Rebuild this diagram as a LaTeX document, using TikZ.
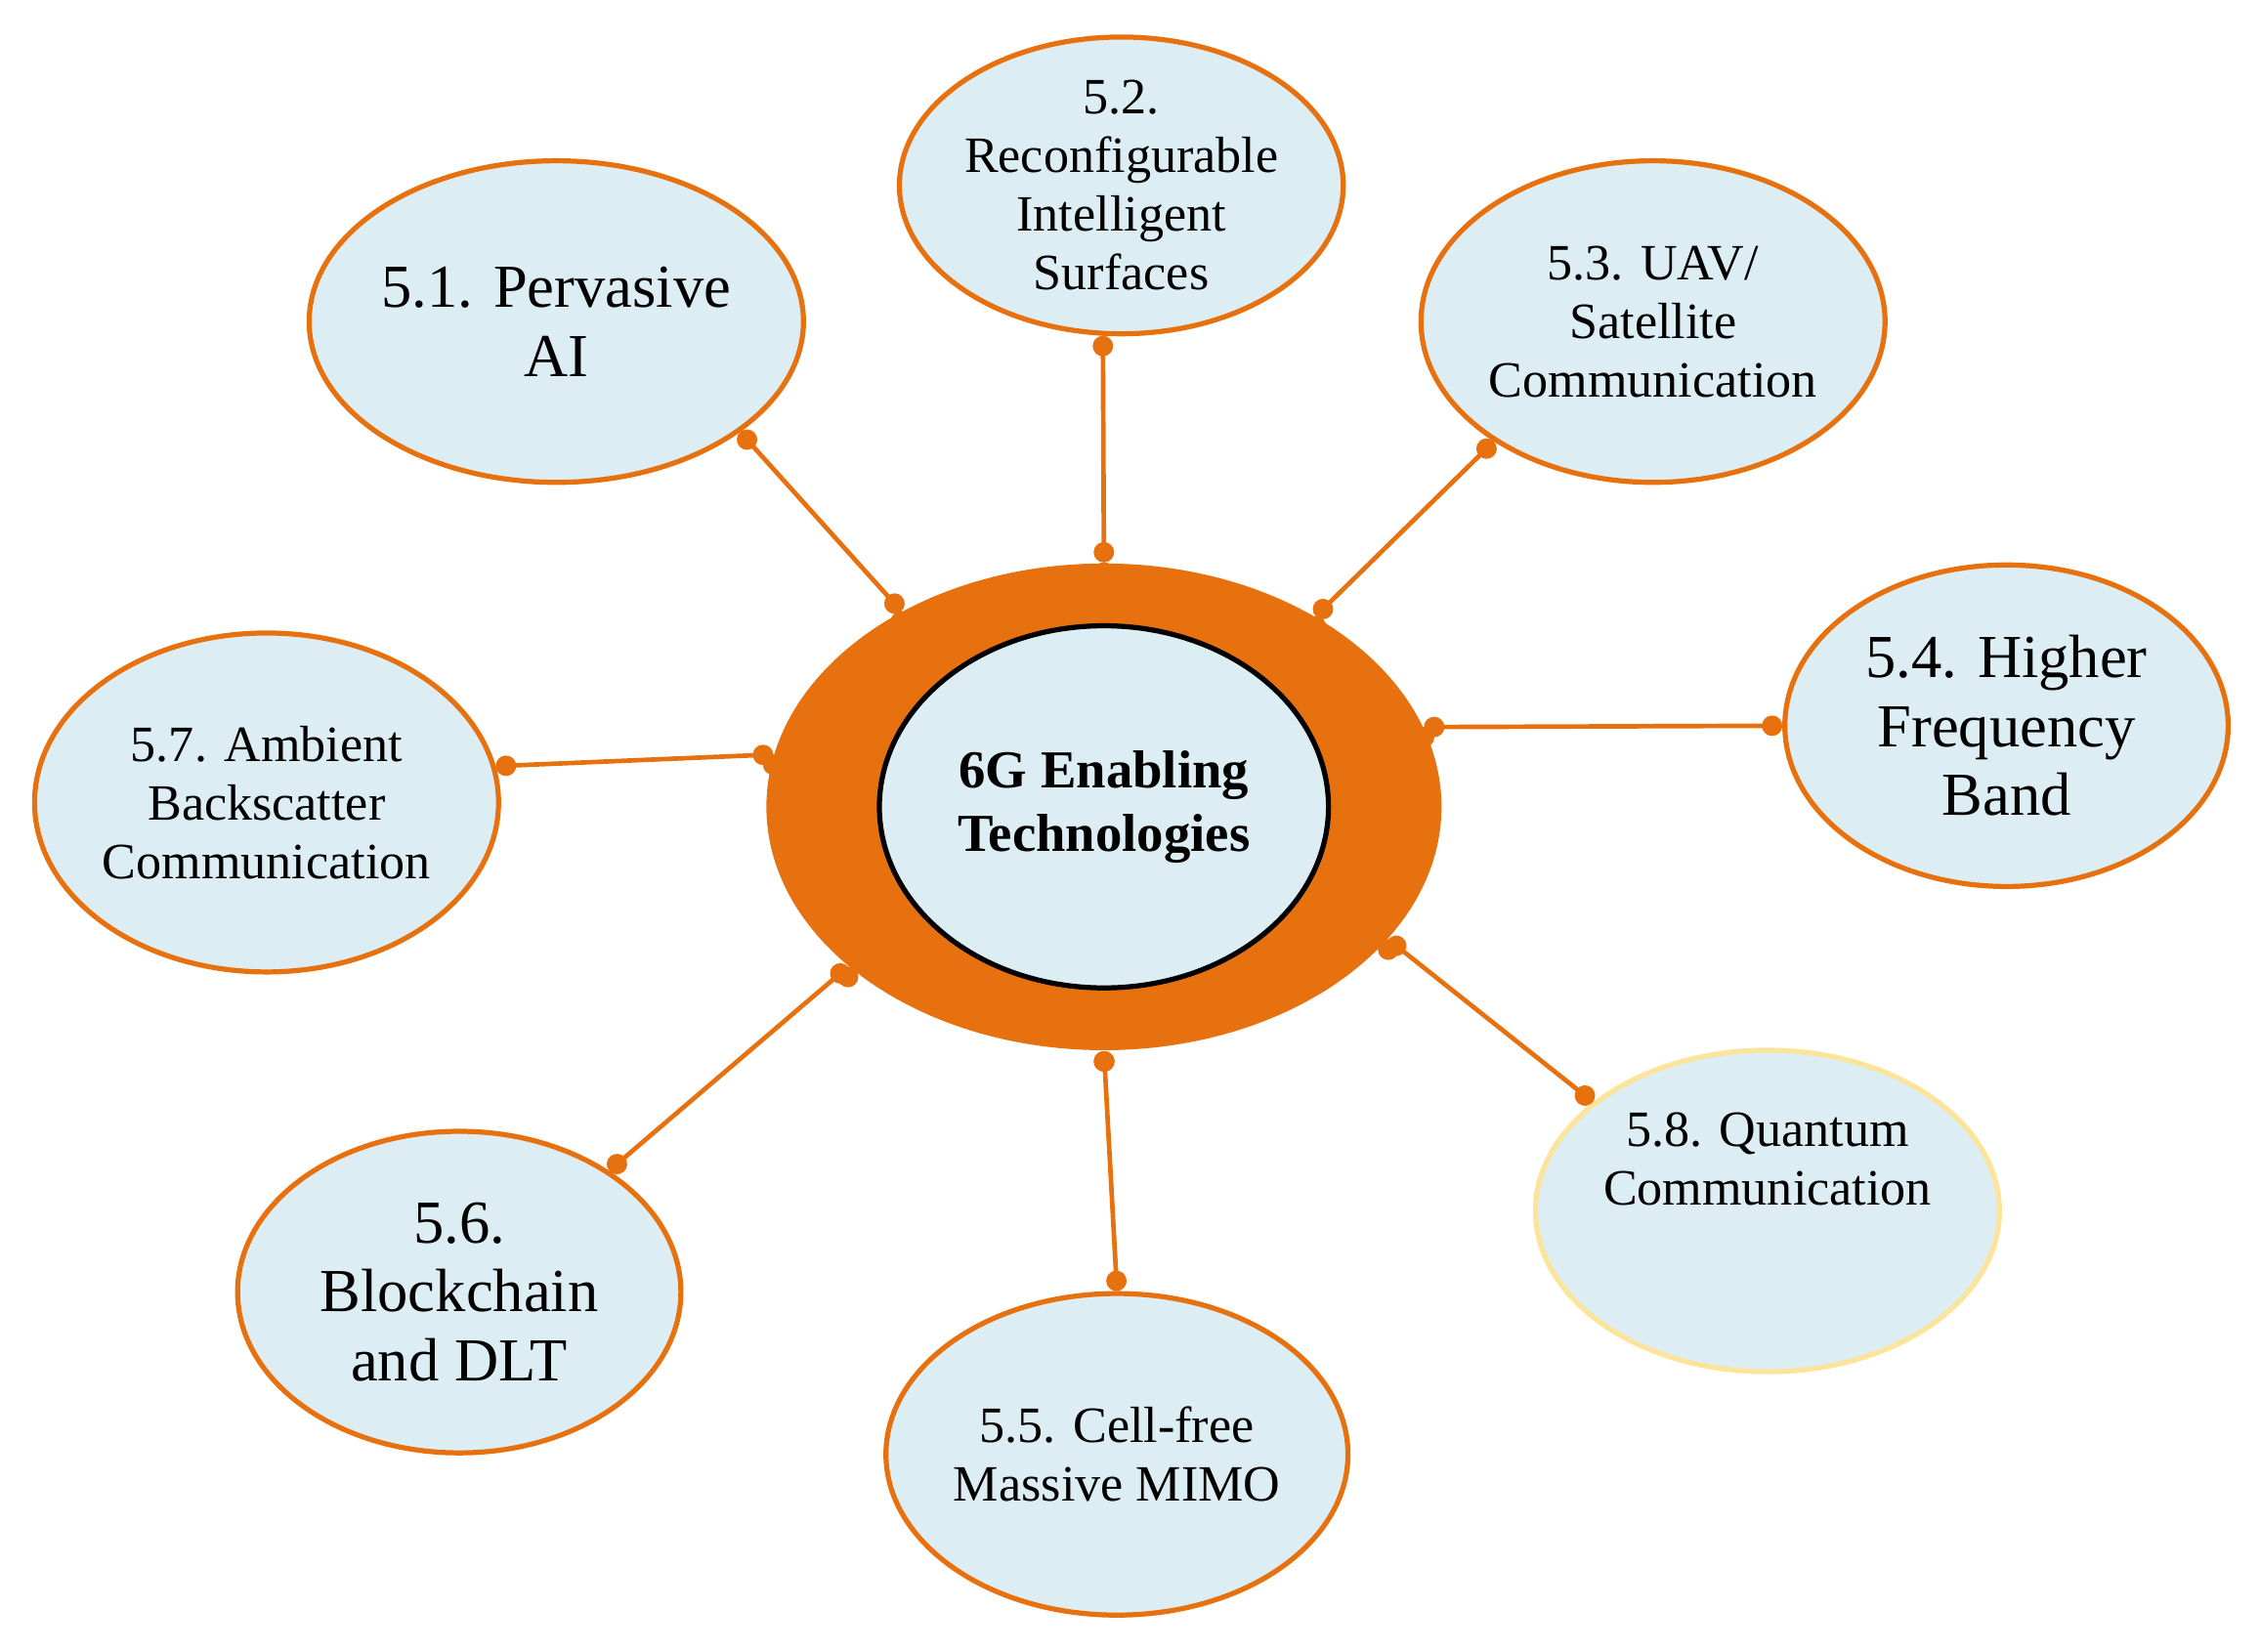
\documentclass[tikz,border=0pt]{standalone}
\usepackage{fontspec}
\setmainfont{Liberation Serif}
\usetikzlibrary{shapes.geometric,arrows.meta}
\definecolor{sixorange}{HTML}{E8710F}
\definecolor{sixblue}{HTML}{DCEEF3}
\definecolor{sixyellow}{HTML}{FCE49A}
\tikzset{
  topic/.style={shape=ellipse, draw=sixorange, fill=sixblue, line width=1pt,
    minimum width=3.06cm, minimum height=2.22cm, inner sep=0pt,
    align=center, font=\fontsize{10}{11.5}\selectfont},
  bigtopic/.style={topic, font=\fontsize{12}{13.5}\selectfont},
  link/.style={draw=sixorange, line width=0.9pt,
    {Circle[length=4pt, fill=sixorange]}-{Circle[length=4pt, fill=sixorange]}}
}
\begin{document}
\begin{tikzpicture}
            \useasboundingbox (0,0) rectangle (15.6,-11.4);
            \node[shape=ellipse, fill=sixorange, minimum width=4.66cm, minimum height=3.36cm] (hub) at (7.62,-5.57){};
            \node[shape=ellipse, draw=black, fill=sixblue, line width=1pt, minimum width=3.1cm, minimum height=2.5cm, inner sep=0pt, align=center, font=\bfseries\fontsize{10.5}{12.5}\selectfont] (core) at (7.62,-5.57){6G Enabling\\Technologies};

            \node[bigtopic] (t1) at (3.84,-2.22){5.1. Pervasive\\AI};
            \node[topic, minimum height=2.0cm] (t2) at (7.74,-1.28){5.2.\\Reconfigurable\\Intelligent\\Surfaces};
            \node[topic] (t3) at (11.41,-2.22){5.3. UAV/\\Satellite\\Communication};
            \node[bigtopic] (t4) at (13.85,-5.01){5.4. Higher\\Frequency\\Band};
            \node[topic] (t5) at (7.71,-10.04){5.5. Cell-free\\Massive MIMO};
            \node[bigtopic] (t6) at (3.17,-8.92){5.6.\\Blockchain\\and DLT};
            \node[topic, minimum width=3.2cm, minimum height=2.34cm] (t7) at (1.84,-5.54){5.7. Ambient\\Backscatter\\Communication};
            \node[topic, draw=sixyellow] (t8) at (12.20,-8.36){5.8. Quantum\\Communication\\[0.9em]};

            \path [link] (hub.136) edge (t1.-31);
            \path [link] (hub.90) edge (t2.-97);
            \path [link] (hub.42) edge (t3.-143);
            \path [link] (hub.14) edge (t4.180);
            \path [link] (hub.-90) edge (t5.90);
            \path [link] (hub.-148) edge (t6.39);
            \path [link] (hub.171) edge (t7.9);
            \path [link] (hub.-25) edge (t8.148);
        \end{tikzpicture}
\end{document}
